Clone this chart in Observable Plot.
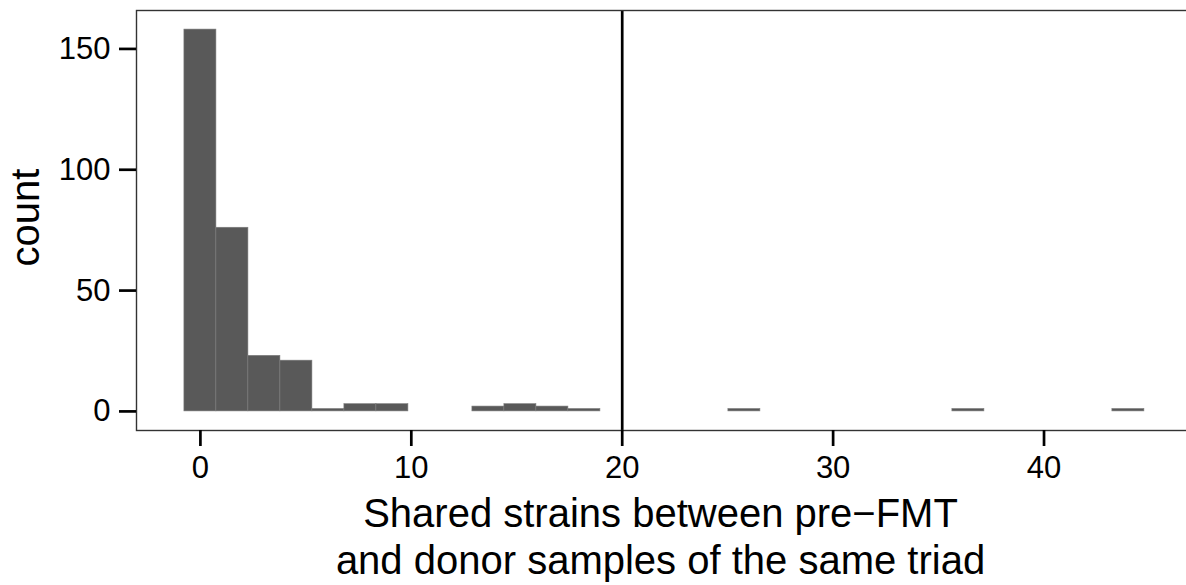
<!DOCTYPE html>
<html>
<head>
<meta charset="utf-8">
<script src="https://cdn.jsdelivr.net/npm/d3@7"></script>
<script src="https://cdn.jsdelivr.net/npm/@observablehq/plot@0.6"></script>
<style>
  html, body { margin: 0; padding: 0; background: #fff; overflow: hidden; }
  #chart svg { display: block; }
</style>
</head>
<body>
<div id="chart"></div>
<script>
// Histogram of shared strains: 30 bins spanning 0–44, bins centred on k * binWidth
const binWidth = 44 / 29;
const binIndex = [0, 1, 2, 3, 4, 5, 6, 9, 10, 11, 12, 17, 24, 29];
const counts   = [158, 76, 23, 21, 1, 3, 3, 2, 3, 2, 1, 1, 1, 1];

const xTicks = [0, 10, 20, 30, 40];
const yTicks = [0, 50, 100, 150];
const threshold = [20];

const xTitle = "Shared strains between pre\u2212FMT\nand donor samples of the same triad";
const yTitle = "count";

const bins = binIndex.map((k, i) => ({
  x1: k * binWidth - binWidth / 2,
  x2: k * binWidth + binWidth / 2,
  count: counts[i]
}));

const font = "'Liberation Sans', Arimo, Arial, sans-serif";

const chart = Plot.plot({
  width: 1186,
  height: 585,
  marginLeft: 136,
  marginRight: -6,
  marginTop: 10,
  marginBottom: 155,
  style: { fontFamily: font, background: "#fff", color: "#000" },
  x: { domain: [-3.03, 47.04] },
  y: { domain: [-7.9, 165.9] },
  marks: [
    Plot.rectY(bins, {
      x1: "x1", x2: "x2", y1: 0, y2: "count",
      fill: "#595959", stroke: "#7d7d7d", strokeWidth: 0.6
    }),
    Plot.ruleX(threshold, { stroke: "#000", strokeWidth: 2.7 }),
    Plot.frame({ stroke: "#333", strokeWidth: 1.4 }),
    Plot.axisX({
      ticks: xTicks, tickSize: 16, tickPadding: 9, fontSize: 31,
      strokeWidth: 2.7, stroke: "#000", fill: "#000", label: null
    }),
    Plot.axisY({
      ticks: yTicks, tickSize: 17, tickPadding: 9, fontSize: 31,
      strokeWidth: 2.7, stroke: "#000", fill: "#000", label: null
    }),
    Plot.text([xTitle], {
      frameAnchor: "bottom", lineAnchor: "top", textAnchor: "middle",
      dx: -4, dy: 64, fontSize: 40, lineHeight: 1.16, fill: "#000"
    }),
    Plot.text([yTitle], {
      frameAnchor: "left", lineAnchor: "middle", textAnchor: "middle",
      rotate: -90, dx: -110, dy: -3, fontSize: 40, fill: "#000"
    })
  ]
});

document.getElementById("chart").appendChild(chart);
</script>
</body>
</html>
